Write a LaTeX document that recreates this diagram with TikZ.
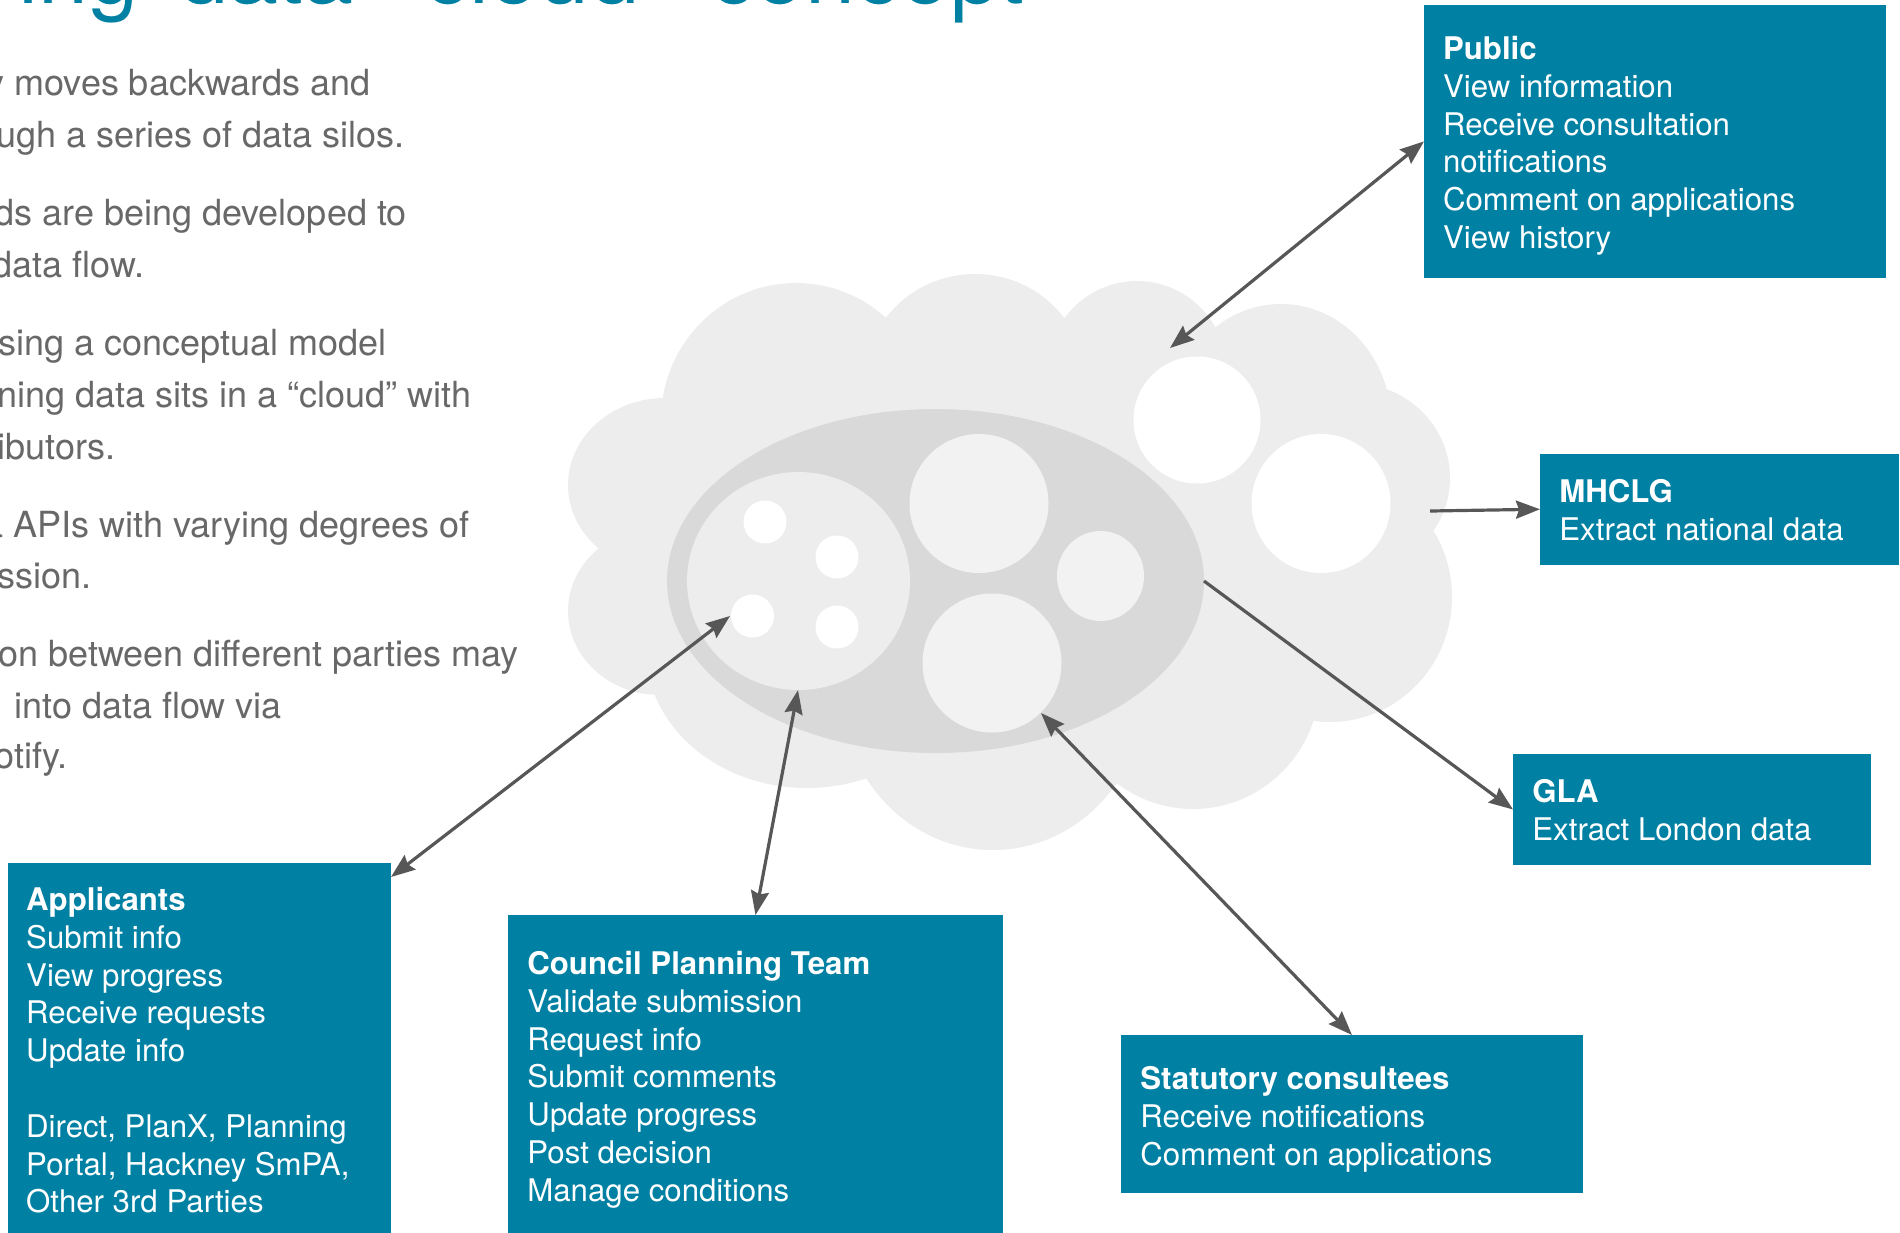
\documentclass[tikz,border=0pt]{standalone}
\usepackage{fontspec}
\setmainfont{TeX Gyre Heros}
\usepackage{xcolor}
\definecolor{colorParty}{HTML}{0080A3}
\definecolor{colorCloud}{HTML}{EDEDED}
\definecolor{colorCore}{HTML}{D9D9D9}
\definecolor{colorSilo}{HTML}{F2F2F2}
\definecolor{colorLink}{HTML}{575757}
\definecolor{colorNote}{HTML}{686868}
\usepackage{tikz}
\usetikzlibrary{arrows.meta, positioning}
\newcommand{\partyfont}{\fontsize{15.6}{18.9}\selectfont}
\newcommand{\notefont}{\fontsize{18}{26}\selectfont}
\newcommand{\bannerfont}{\fontsize{45}{50}\selectfont\spaceskip=0.45em\relax}
\tikzset{
  party/.style={fill=colorParty, anchor=north west, inner sep=0pt, outer sep=0pt},
  partytext/.style={text=white, align=left, inner sep=0pt, font=\partyfont},
  note/.style={text=colorNote, anchor=base west, inner sep=0pt, font=\notefont},
  link/.style={colorLink, line width=1.6pt},
}

\begin{document}
\begin{tikzpicture}[x=0.5pt, y=-0.5pt, >={Stealth[length=12pt, width=9pt, inset=1.5pt]}]
\useasboundingbox (0,0) rectangle (1900,1232);
\clip (0,0) rectangle (1900,1232);

\node[anchor=base west, inner sep=0pt, text=colorParty, font=\bannerfont] (banner) at (18,3) {ing data “cloud” concept};

\node[note] (n1) at (-14,95) {y moves backwards and};
\node[note] (n2) at (-4,147) {ugh a series of data silos.};
\node[note] (n3) at (-6,225) {ds are being developed to};
\node[note] (n4) at (-8,277) {data flow.};
\node[note] (n5) at (-2,355) {sing a conceptual model};
\node[note] (n6) at (-3,407) {ning data sits in a “cloud” with};
\node[note] (n7) at (-3,459) {ibutors.};
\node[note] (n8) at (-17,537) {a APIs with varying degrees of};
\node[note] (n9) at (-3,588) {ssion.};
\node[note] (n10) at (-2,666) {on between different parties may};
\node[note] (n11) at (14,718) {into data flow via};
\node[note] (n12) at (-6,768) {otify.};

\fill[colorCloud] (1000,560) ellipse [x radius=330, y radius=200];
\fill[colorCloud] (796,420) ellipse [x radius=135, y radius=137];
\fill[colorCloud] (975,380) ellipse [x radius=110, y radius=106];
\fill[colorCloud] (1137,372) ellipse [x radius=90, y radius=91];
\fill[colorCloud] (1281,422) ellipse [x radius=110, y radius=118];
\fill[colorCloud] (1352,478) ellipse [x radius=98, y radius=95];
\fill[colorCloud] (1330,597) ellipse [x radius=122, y radius=125];
\fill[colorCloud] (1193,680) ellipse [x radius=127, y radius=129];
\fill[colorCloud] (993,690) ellipse [x radius=152, y radius=160];
\fill[colorCloud] (807,650) ellipse [x radius=161, y radius=138];
\fill[colorCloud] (660,611) ellipse [x radius=92, y radius=84];
\fill[colorCloud] (665,485) ellipse [x radius=97, y radius=87];

\fill[colorCore] (935.5,581) ellipse [x radius=268.5, y radius=172];
\fill[colorCloud] (798.5,581) ellipse [x radius=111.5, y radius=109];
\fill[white] (765,522) circle [radius=21.5];
\fill[white] (837,557) circle [radius=21.5];
\fill[white] (752.5,616) circle [radius=21.5];
\fill[white] (837,627) circle [radius=21.5];
\fill[colorSilo] (979,503.5) circle [radius=69.5];
\fill[colorSilo] (1100.5,576) ellipse [x radius=43.5, y radius=45];
\fill[colorSilo] (992,663) circle [radius=69.5];
\fill[white] (1197,420) circle [radius=63.5];
\fill[white] (1321,503.5) circle [radius=69.5];

\node[party, minimum width=231pt, minimum height=136.4pt] (public) at (1424,5) {};
\node[partytext, below right=15.45pt and 9.35pt of public.north west] (publictext) {\textbf{Public}\\View information\\Receive consultation\\notifications\\Comment on applications\\View history};

\node[party, minimum width=179.25pt, minimum height=55.25pt] (mhclg) at (1540,454) {};
\node[partytext, below right=12.65pt and 9.5pt of mhclg.north west] (mhclgtext) {\textbf{MHCLG}\\Extract national data};

\node[party, minimum width=178.75pt, minimum height=55.5pt] (gla) at (1513,754) {};
\node[partytext, below right=12.65pt and 9.5pt of gla.north west] (glatext) {\textbf{GLA}\\Extract London data};

\node[party, minimum width=191.5pt, minimum height=188.5pt] (applicants) at (8,863) {};
\node[partytext, below right=11.95pt and 8.9pt of applicants.north west] (applicantstext) {\textbf{Applicants}\\Submit info\\View progress\\Receive requests\\Update info\\[18.9pt]Direct, PlanX, Planning\\Portal, Hackney SmPA,\\Other 3rd Parties};

\node[party, minimum width=247.5pt, minimum height=162.5pt] (council) at (508,915) {};
\node[partytext, below right=17.95pt and 9.5pt of council.north west] (counciltext) {\textbf{Council Planning Team}\\Validate submission\\Request info\\Submit comments\\Update progress\\Post decision\\Manage conditions};

\node[party, minimum width=231pt, minimum height=79pt] (statutory) at (1121,1035) {};
\node[partytext, below right=15.45pt and 9.5pt of statutory.north west] (statutorytext) {\textbf{Statutory consultees}\\Receive notifications\\Comment on applications};

\coordinate (pubdock) at (1170,348);
\coordinate (mhclgdock) at (1430,511);
\coordinate (gladock) at (1204,581);
\coordinate (appdock) at (730,616);
\coordinate (coundock) at (798,690);
\coordinate (statdock) at (1041,713);

\draw[link, <->] (pubdock) -- (public.west);
\draw[link, ->] (mhclgdock) -- (mhclg.west);
\draw[link, ->] (gladock) -- (gla.west);
\draw[link, <->] (appdock) -- ([yshift=-7pt]applicants.north east);
\draw[link, <->] (coundock) -- (council.north);
\draw[link, <->] (statdock) -- (statutory.north);
\end{tikzpicture}
\end{document}
